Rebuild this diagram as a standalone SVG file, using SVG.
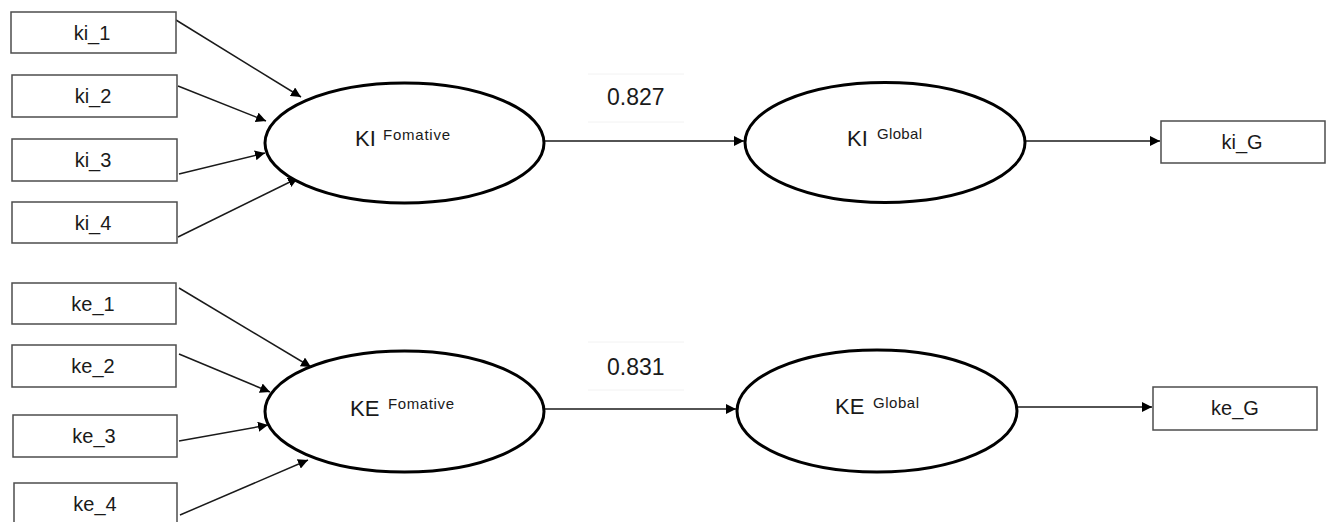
<svg xmlns="http://www.w3.org/2000/svg" width="1326" height="522" viewBox="0 0 1326 522">
  <style>
    .box { fill: #ffffff; stroke: #4d4d4d; stroke-width: 1.5; }
    .lat { fill: #ffffff; stroke: #000000; stroke-width: 3; }
    .lbl { font-family: "Liberation Sans", Arial, sans-serif; font-size: 20px; fill: #1a1a1a; text-anchor: middle; }
    .big { font-family: "Liberation Sans", Arial, sans-serif; font-size: 22px; fill: #1a1a1a; }
    .sup { font-family: "Liberation Sans", Arial, sans-serif; font-size: 15px; fill: #1a1a1a; }
    .coef { font-family: "Liberation Sans", Arial, sans-serif; font-size: 23px; fill: #1a1a1a; }
    .edge { stroke: #1a1a1a; stroke-width: 1.5; fill: none; marker-end: url(#arrow); }
    .rule { stroke: #f2f2f2; stroke-width: 1; }
  </style>
  <defs>
    <marker id="arrow" viewBox="0 0 10 10" refX="10" refY="5" markerWidth="10" markerHeight="10" markerUnits="userSpaceOnUse" orient="auto">
      <path d="M0,0 L10,5 L0,10 z" fill="#000000"/>
    </marker>
  </defs>
  <rect width="1326" height="522" fill="#ffffff"/>

  <!-- connectors -->
  <g id="connectors">
    <line class="edge" x1="176" y1="20" x2="301" y2="97"/>
    <line class="edge" x1="178" y1="86" x2="266" y2="121"/>
    <line class="edge" x1="179" y1="174" x2="265" y2="153"/>
    <line class="edge" x1="178" y1="237" x2="298" y2="178"/>
    <line class="edge" x1="544" y1="141" x2="744" y2="141"/>
    <line class="edge" x1="1025" y1="141" x2="1160" y2="141"/>

    <line class="edge" x1="179" y1="288" x2="311" y2="367"/>
    <line class="edge" x1="179" y1="354" x2="270" y2="392"/>
    <line class="edge" x1="179" y1="441" x2="268" y2="425"/>
    <line class="edge" x1="180" y1="515" x2="308" y2="460"/>
    <line class="edge" x1="544" y1="409" x2="736" y2="409"/>
    <line class="edge" x1="1017" y1="407" x2="1152" y2="407"/>
  </g>

  <!-- KI block -->
  <g id="ki_1"><rect class="box" x="11" y="12" width="165" height="41"/><text class="lbl" x="92" y="40">ki_1</text></g>
  <g id="ki_2"><rect class="box" x="12" y="75" width="165" height="42"/><text class="lbl" x="93" y="103">ki_2</text></g>
  <g id="ki_3"><rect class="box" x="12" y="139" width="165" height="42"/><text class="lbl" x="93" y="167">ki_3</text></g>
  <g id="ki_4"><rect class="box" x="12" y="202" width="165" height="41"/><text class="lbl" x="93" y="230">ki_4</text></g>

  <g id="ki_formative">
    <ellipse class="lat" cx="404.5" cy="143" rx="139.5" ry="60"/>
    <text class="big" x="355" y="146">KI</text>
    <text class="sup" x="383" y="140" textLength="67" lengthAdjust="spacing">Fomative</text>
  </g>

  <g id="coef_ki">
    <line class="rule" x1="588" y1="74" x2="684" y2="74"/>
    <line class="rule" x1="588" y1="122" x2="684" y2="122"/>
    <text class="coef" x="607" y="105">0.827</text>
  </g>

  <g id="ki_global">
    <ellipse class="lat" cx="885" cy="142.5" rx="140" ry="60"/>
    <text class="big" x="847" y="146">KI</text>
    <text class="sup" x="877" y="139" textLength="45" lengthAdjust="spacing">Global</text>
  </g>

  <g id="ki_G"><rect class="box" x="1161" y="121" width="164" height="42"/><text class="lbl" x="1242" y="149">ki_G</text></g>

  <!-- KE block -->
  <g id="ke_1"><rect class="box" x="12" y="283" width="164" height="41"/><text class="lbl" x="93" y="311">ke_1</text></g>
  <g id="ke_2"><rect class="box" x="12" y="345" width="164" height="42"/><text class="lbl" x="93" y="373">ke_2</text></g>
  <g id="ke_3"><rect class="box" x="13" y="415" width="164" height="42"/><text class="lbl" x="94" y="443">ke_3</text></g>
  <g id="ke_4"><rect class="box" x="14" y="483" width="163" height="45"/><text class="lbl" x="95" y="511">ke_4</text></g>

  <g id="ke_formative">
    <ellipse class="lat" cx="404.5" cy="411.5" rx="139.5" ry="60.5"/>
    <text class="big" x="350" y="416">KE</text>
    <text class="sup" x="388" y="409" textLength="66" lengthAdjust="spacing">Fomative</text>
  </g>

  <g id="coef_ke">
    <line class="rule" x1="588" y1="342" x2="684" y2="342"/>
    <line class="rule" x1="588" y1="390" x2="684" y2="390"/>
    <text class="coef" x="607" y="375">0.831</text>
  </g>

  <g id="ke_global">
    <ellipse class="lat" cx="877" cy="411" rx="140" ry="61"/>
    <text class="big" x="835" y="414">KE</text>
    <text class="sup" x="873" y="408" textLength="46" lengthAdjust="spacing">Global</text>
  </g>

  <g id="ke_G"><rect class="box" x="1153" y="387" width="164" height="43"/><text class="lbl" x="1235" y="415">ke_G</text></g>
</svg>
